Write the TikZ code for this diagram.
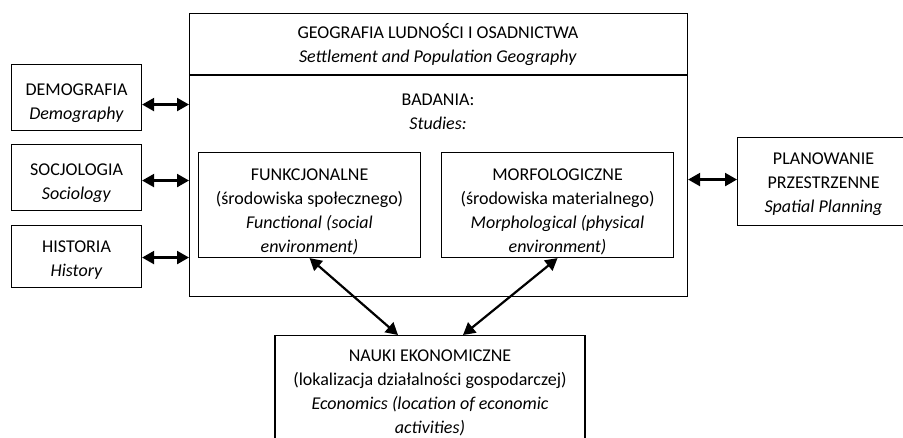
\documentclass[tikz,border=0pt]{standalone}
\usepackage{fontspec}
\setmainfont{Carlito}
\usetikzlibrary{arrows.meta}
\newcommand\liftline[1]{\rule{0pt}{#1}}
\begin{document}
\begin{tikzpicture}[x=1pt,y=-1pt,
  box/.style={draw, line width=1.1pt, inner sep=0pt, align=center, anchor=north west},
  plain/.style={inner sep=0pt, align=center},
  arr/.style={line width=2.2pt, {Triangle[length=12pt,width=13pt]}-{Triangle[length=12pt,width=13pt]}}
]
\fontsize{18}{24}\selectfont
\useasboundingbox (0,0) rectangle (903,438);
\begin{scope}
\clip (0,0) rectangle (903,438);
% main box
\node[box, minimum width=498pt, minimum height=283pt] (geo) at (189,13) {};
\coordinate (divL) at (189,75);
\coordinate (divR) at (687,75);
\draw[line width=1.1pt] (divL) -- (divR);
\node[plain] (title) at (438,45) {GEOGRAFIA LUDNOŚCI I OSADNICTWA\\\textit{Settlement and Population Geography}};
\node[plain] (bad) at (438,112) {BADANIA:\\\textit{Studies:}};
% inner boxes
\node[box, minimum width=222pt, minimum height=105pt] (funk) at (198,152) {\liftline{25pt}FUNKCJONALNE\\(środowiska społecznego)\\\textit{Functional (social}\\\textit{environment)}};
\node[box, minimum width=232pt, minimum height=105pt] (morf) at (441,152) {\liftline{25pt}MORFOLOGICZNE\\(środowiska materialnego)\\\textit{Morphological (physical}\\\textit{environment)}};
% left boxes
\node[box, minimum width=130pt, minimum height=66pt] (demo) at (11,64) {\liftline{22pt}DEMOGRAFIA\\\textit{Demography}};
\node[box, minimum width=130pt, minimum height=66pt] (soc) at (11,144) {\liftline{22pt}SOCJOLOGIA\\\textit{Sociology}};
\node[box, minimum width=130pt, minimum height=62pt] (hist) at (11,225) {\liftline{18pt}HISTORIA\\\textit{History}};
% right box
\node[box, minimum width=172pt, minimum height=88pt] (plan) at (737,137) {\liftline{16pt}PLANOWANIE\\PRZESTRZENNE\\\textit{Spatial Planning}};
% bottom box
\node[draw, line width=1.1pt, inner xsep=0pt, inner ysep=14pt, align=center, anchor=north, minimum width=310pt, minimum height=140pt, text depth=0pt] (nauki) at (430,335) {NAUKI EKONOMICZNE\\(lokalizacja działalności gospodarczej)\\\textit{Economics (location of economic}\\\textit{activities)}\\ \\ \\};
% arrows
\draw[arr] ([yshift=-7pt]demo.east) -- ([yshift=-7pt]demo.east -| geo.west);
\draw[arr] ([yshift=-3pt]soc.east) -- ([yshift=-3pt]soc.east -| geo.west);
\draw[arr] ([yshift=-1pt]hist.east) -- ([yshift=-1pt]hist.east -| geo.west);
\draw[arr] ([yshift=2pt]plan.west) -- ([yshift=2pt]plan.west -| geo.east);
\draw[arr] (funk.south) -- ([xshift=-32pt]nauki.north);
\draw[arr] (morf.south) -- ([xshift=33pt]nauki.north);
\end{scope}
\end{tikzpicture}
\end{document}
